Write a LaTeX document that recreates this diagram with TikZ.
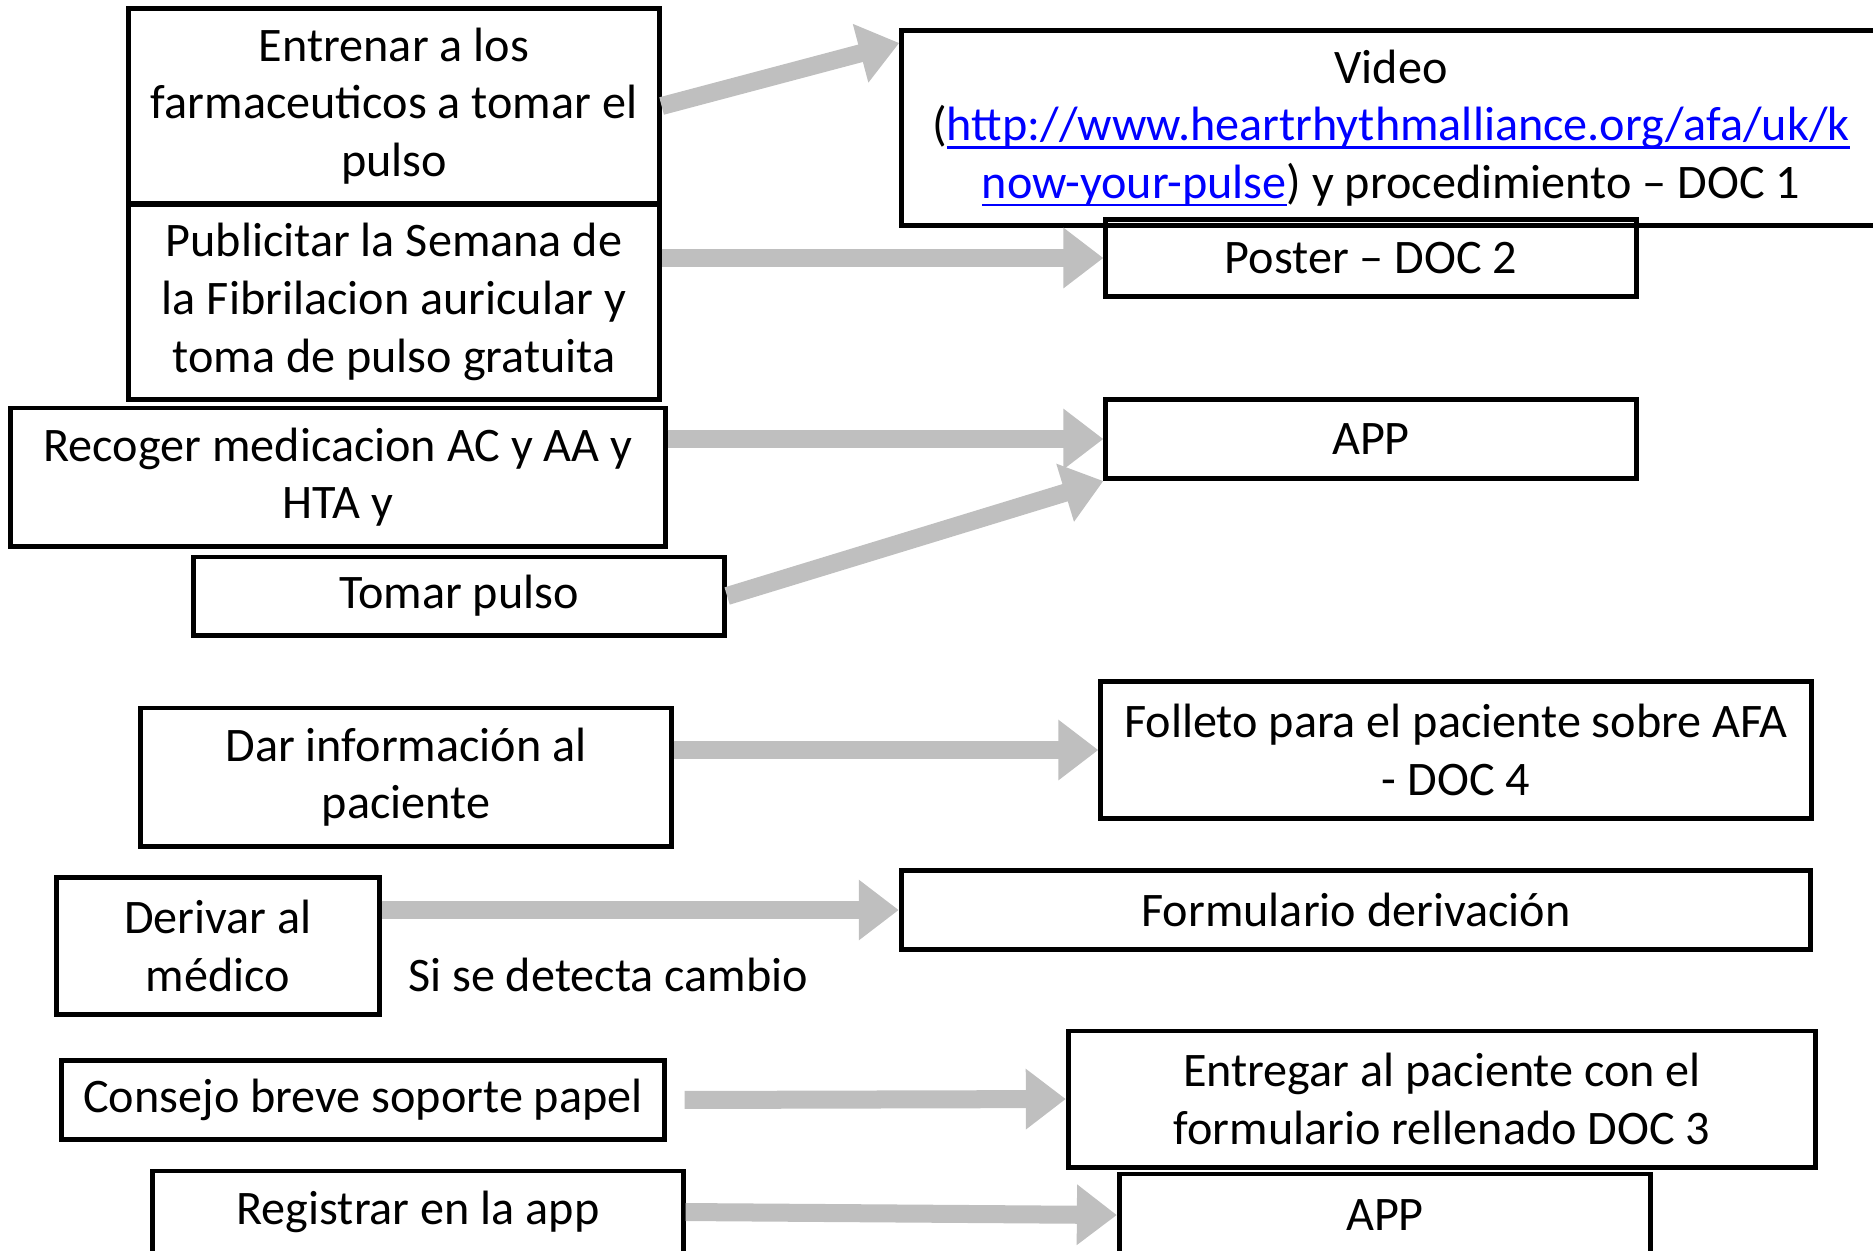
\documentclass[tikz,border=0pt]{standalone}
\usepackage{fontspec}
\setmainfont{Carlito}
\usepackage{xcolor}
\usepackage{tikz}
\usetikzlibrary{calc, positioning, arrows.meta}
\definecolor{linkgray}{RGB}{191,191,191}
\definecolor{urlblue}{RGB}{0,0,255}
\newcommand\weblink[1]{\textcolor{urlblue}{\setbox0\hbox{#1}\rlap{\rule[-2.2pt]{\wd0}{.6pt}}\box0}}
\tikzset{
	x = .01cm,
	y = -.01cm,
	font = \fontsize{13.7}{16.4}\selectfont,
	box/.style={
		draw,
		line width=1.4pt,
		align=center,
		inner sep=2pt
	},
	link/.style={
		draw=linkgray,
		line width=.18cm,
		arrows = {-Triangle[length=.4cm, width=.58cm]}
	}
}

\begin{document}
\begin{tikzpicture}
		\useasboundingbox (0,0) rectangle (1873,1250);
		% left column
		\node[box, minimum width=5.3cm, minimum height=1.94cm] at (394,106) (entrenar) {Entrenar a los\\farmaceuticos a tomar el\\pulso};
		\node[box, minimum width=5.3cm, minimum height=1.95cm] at (394,302) (publicitar) {Publicitar la Semana de\\la Fibrilacion auricular y\\toma de pulso gratuita};
		\node[box, minimum width=6.54cm, minimum height=1.38cm] at (338,477) (recoger) {Recoger medicacion AC y AA y\\HTA y};
		\node[box, minimum width=5.31cm, minimum height=.78cm] at (459,596) (tomar) {Tomar pulso};
		\node[box, minimum width=5.3cm, minimum height=1.38cm] at (406,777) (dar) {Dar información al\\paciente};
		\node[box, minimum width=3.22cm, minimum height=1.37cm] at (218,946) (derivar) {Derivar al\\médico};
		\node[box, minimum width=6.02cm, minimum height=.79cm] at (363,1100) (consejo) {Consejo breve soporte papel};
		\node[box, minimum width=5.3cm, minimum height=.82cm] at (418,1212) (registrar) {Registrar en la app};
		% right column
		\node[box, minimum width=9.78cm, minimum height=1.95cm] at (1391,128) (video) {Video\\(\weblink{http://www.heartrhythmalliance.org/afa/uk/k}\\\weblink{now-your-pulse}) y procedimiento – DOC 1};
		\node[box, minimum width=5.3cm, minimum height=.77cm] at (1371,258) (poster) {Poster – DOC 2};
		\node[box, minimum width=5.3cm, minimum height=.79cm] at (1371,439) (app) {APP};
		\node[box, minimum width=7.1cm, minimum height=1.37cm] at (1456,750) (folleto) {Folleto para el paciente sobre AFA\\- DOC 4};
		\node[box, minimum width=9.09cm, minimum height=.79cm] at (1356,910) (formulario) {Formulario derivación};
		\node[box, minimum width=7.47cm, minimum height=1.36cm] at (1442,1099) (entregar) {Entregar al paciente con el\\formulario rellenado DOC 3};
		\node[box, minimum width=5.31cm, minimum height=.82cm] at (1385,1215) (appreg) {APP};
		\node at (608,975) (cambio) {Si se detecta cambio};
		% arrows
		\draw[link] (entrenar.east) to ($(video.north west)+(0,15)$);
		\draw[link] (publicitar.east |- poster.west) to (poster.west);
		\draw[link] (recoger.east |- app.west) to (app.west);
		\draw[link] (tomar.east) to (app.south west);
		\draw[link] (dar.east |- folleto.west) to (folleto.west);
		\draw[link] (derivar.east |- formulario.west) to (formulario.west);
		\draw[link, shorten <=.18cm] (consejo.east) to (entregar.west);
		\draw[link] (registrar.east) to (appreg.west);
	\end{tikzpicture}
\end{document}
